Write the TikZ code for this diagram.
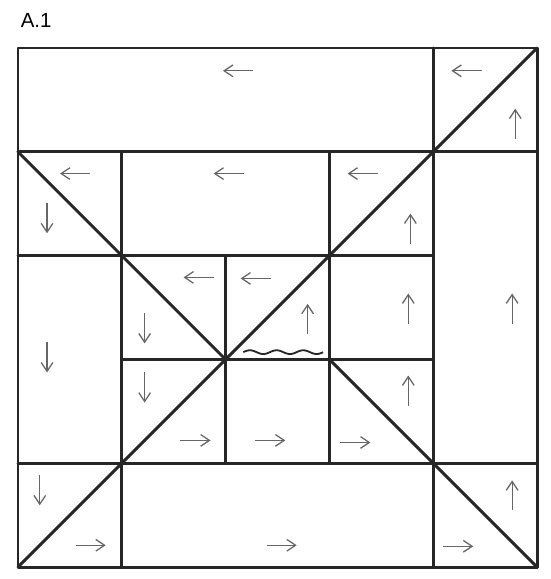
\documentclass[tikz,border=0pt]{standalone}
\usepackage{fontspec}
\setmainfont{Liberation Sans}
\usepackage{tikz}
\usetikzlibrary{math, arrows.meta}

\begin{document}
\begin{tikzpicture}
    \tikzset{%
        seam/.style={line width=0.8pt, black!85, line cap=round, line join=round},
        knit/.style={line width=0.35pt, black!60, -{Straight Barb[length=2.4pt, width=3.2pt]}},
        fold/.style={line width=0.5pt, black!85}
    }
    \tikzmath{\len=0.29; \hl=\len/2;}

    \useasboundingbox (-0.173, -0.115) rectangle (5.125, 5.462);
    \node [anchor=west, inner sep=0pt] (title) at (0.02, 5.26) {\fontsize{5.6}{6.5}\selectfont A.1};

    % outer square and grid
    \draw [seam] (0, 0) rectangle (5, 5);
    \draw [seam] (0, 4) -- (5, 4);
    \draw [seam] (0, 3) -- (4, 3);
    \draw [seam] (1, 2) -- (4, 2);
    \draw [seam] (0, 1) -- (5, 1);
    \draw [seam] (4, 5) -- (4, 4);
    \draw [seam] (4, 4) -- (4, 0);
    \draw [seam] (1, 4) -- (1, 0);
    \draw [seam] (3, 4) -- (3, 1);
    \draw [seam] (2, 3) -- (2, 1);
    % diagonals
    \draw [seam] (0, 0) -- (5, 5);
    \draw [seam] (0, 4) -- (2, 2);
    \draw [seam] (3, 2) -- (5, 0);

    % wave
    \draw [fold, domain=2.17:2.94, samples=80, smooth] plot (\x, {2.07+0.018*sin(360*(\x-2.17)/0.257)});

    % left
    \foreach \x/\y in {2.12/4.78, 4.32/4.78, 0.55/3.79, 2.03/3.79, 3.32/3.79, 1.74/2.79, 2.29/2.78} {%
            \draw [knit] (\x+\hl, \y) -- (\x-\hl, \y);
        };
    % right
    \foreach \x/\y in {1.71/1.22, 2.43/1.22, 3.25/1.20, 0.70/0.21, 2.54/0.21, 4.24/0.20} {%
            \draw [knit] (\x-\hl, \y) -- (\x+\hl, \y);
        };
    % up
    \foreach \x/\y in {4.79/4.27, 3.78/3.26, 2.79/2.39, 3.76/2.49, 4.76/2.49, 3.76/1.70, 4.76/0.69} {%
            \draw [knit] (\x, \y-\hl) -- (\x, \y+\hl);
        };
    % down
    \foreach \x/\y in {0.28/3.36, 0.28/2.02, 1.22/2.30, 1.22/1.73, 0.21/0.74} {%
            \draw [knit] (\x, \y+\hl) -- (\x, \y-\hl);
        };

\end{tikzpicture}
\end{document}
